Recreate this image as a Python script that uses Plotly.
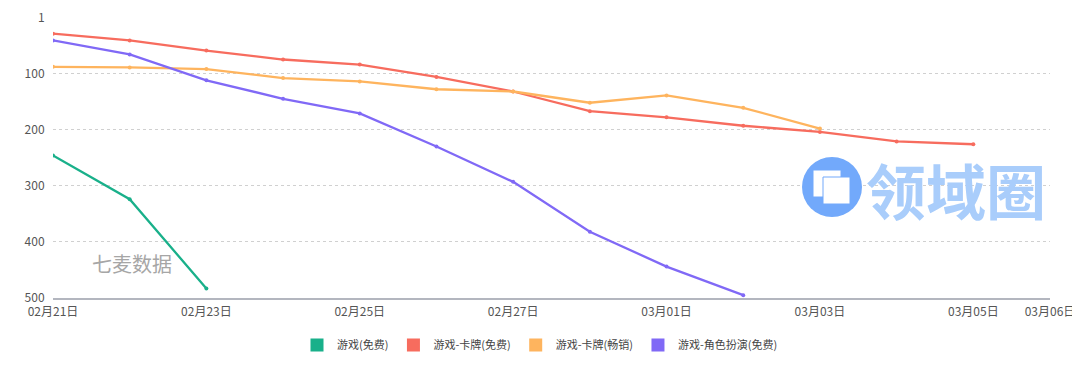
import plotly.graph_objects as go

dates = ["02月21日", "02月22日", "02月23日", "02月24日", "02月25日", "02月26日", "02月27日",
         "02月28日", "03月01日", "03月02日", "03月03日", "03月04日", "03月05日", "03月06日"]
tick_dates = ["02月21日", "02月23日", "02月25日", "02月27日", "03月01日", "03月03日", "03月05日", "03月06日"]

names = ["游戏(免费)", "游戏-卡牌(免费)", "游戏-卡牌(畅销)", "游戏-角色扮演(免费)"]
colors = ["#19b08a", "#f76c5e", "#feb45e", "#8069f6"]

game_free = [246, 324, 483, None, None, None, None, None, None, None, None, None, None, None]
card_free = [29, 41, 59, 75, 84, 106, 132, 167, 178, 193, 204, 221, 226, None]
card_grossing = [88, 89, 92, 108, 114, 128, 132, 152, 139, 161, 198, None, None, None]
rpg_free = [41, 66, 112, 145, 171, 230, 293, 382, 444, 495, None, None, None, None]

series = [game_free, card_free, card_grossing, rpg_free]

font_cjk = "Noto Sans CJK SC"

fig = go.Figure()
for name, color, vals in zip(names, colors, series):
    fig.add_trace(go.Scatter(
        x=dates, y=vals, mode="lines+markers", name=name,
        line=dict(color=color, width=2.3),
        marker=dict(color=color, size=4),
        connectgaps=False, showlegend=False,
    ))
for name, color in zip(names, colors):
    fig.add_trace(go.Scatter(
        x=[None], y=[None], mode="markers", name=name,
        marker=dict(color=color, size=13, symbol="square"),
        showlegend=True,
    ))

# page body has an 8px margin; figure is sized/offset to compensate
OFF = 8
FW, FH = 1072, 359
L, R, T, B = 53, 1050, 18, 298  # plot area in window pixels
W, H = R - L, B - T

def px(x):
    return (x - L) / W

def py(y):
    return (B - y) / H

shapes = [
    dict(type="circle", xref="paper", yref="paper",
         x0=px(802), x1=px(862), y0=py(217), y1=py(157),
         fillcolor="#72a9fb", line=dict(width=0), layer="above"),
    dict(type="rect", xref="paper", yref="paper",
         x0=px(813), x1=px(841), y0=py(197), y1=py(170),
         fillcolor="white", line=dict(color="#72a9fb", width=1), layer="above"),
    dict(type="rect", xref="paper", yref="paper",
         x0=px(823), x1=px(850), y0=py(204), y1=py(177),
         fillcolor="white", line=dict(color="#72a9fb", width=1), layer="above"),
]

annotations = [
    dict(text="七麦数据", xref="paper", yref="paper", x=px(132), y=py(263),
         xanchor="center", yanchor="middle",
         showarrow=False, font=dict(family=font_cjk, size=20, color="#a6a6a6")),
    dict(text="<b>领域圈</b>", xref="paper", yref="paper", x=px(864), y=py(188),
         xanchor="left", yanchor="middle",
         showarrow=False, font=dict(family=font_cjk, size=60, color="#a9cdfb")),
]

fig.update_layout(
    width=FW, height=FH,
    margin=dict(l=L - OFF, r=FW - (R - OFF), t=T - OFF, b=FH - (B - OFF)),
    paper_bgcolor="white", plot_bgcolor="white",
    font=dict(family=font_cjk, size=12, color="#555"),
    xaxis=dict(
        type="category", categoryorder="array", categoryarray=dates,
        range=[0, len(dates) - 1], automargin=False,
        tickvals=tick_dates, ticktext=tick_dates,
        showgrid=False, showline=True, linecolor="#b3b6bf", linewidth=2,
        ticks="outside", ticklen=2, tickcolor="rgba(0,0,0,0)",
        tickfont=dict(size=12, color="#555"), zeroline=False,
    ),
    yaxis=dict(
        range=[500, 1], tickvals=[1, 100, 200, 300, 400, 500], automargin=False,
        showgrid=True, gridcolor="#d0d0d0", griddash="dot", gridwidth=1,
        showline=False, zeroline=False,
        ticks="outside", ticklen=5, tickcolor="rgba(0,0,0,0)",
        tickfont=dict(size=12, color="#555"),
    ),
    legend=dict(orientation="h", xref="container", x=(540 - OFF) / FW, xanchor="center",
                yref="container", y=(FH - (345 - OFF)) / FH, yanchor="middle",
                font=dict(size=11, color="#444"), itemwidth=30,
                tracegroupgap=0),
    shapes=shapes,
    annotations=annotations,
)

fig.write_html("out.html")
